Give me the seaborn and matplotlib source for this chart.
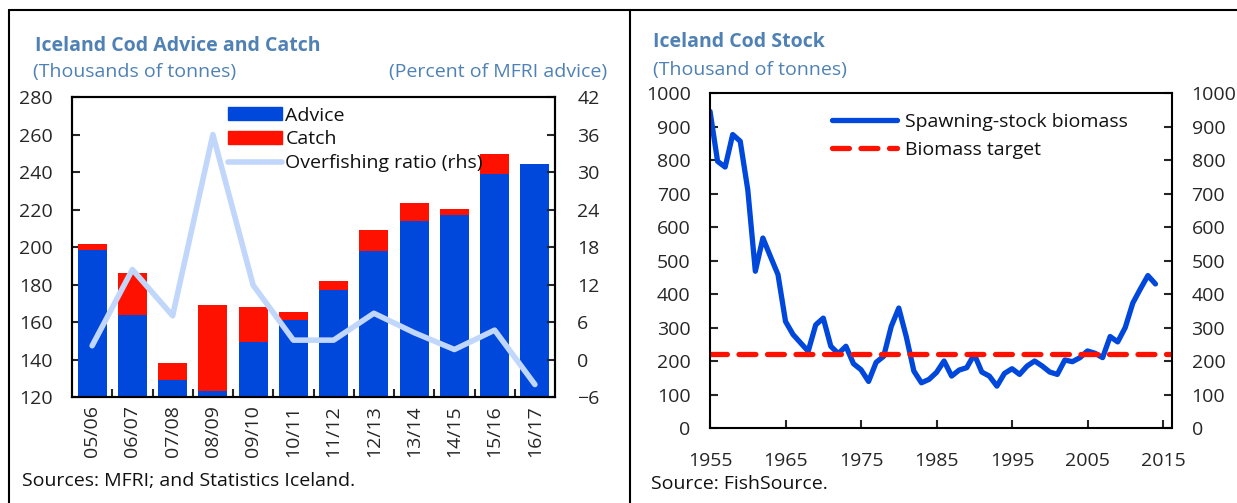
import numpy as np
import pandas as pd
import matplotlib
matplotlib.use("Agg")
import matplotlib.pyplot as plt
from matplotlib.lines import Line2D
from matplotlib.patches import Patch
import seaborn as sns

# left panel data: advice vs catch by fishing season
seasons = ["05/06", "06/07", "07/08", "08/09", "09/10", "10/11",
           "11/12", "12/13", "13/14", "14/15", "15/16", "16/17"]
advice = [198.6, 164.0, 129.3, 123.2, 149.2, 161.0, 177.3, 197.9, 214.0, 217.3, 239.1, 244.2]
catch = [201.4, 186.3, 138.3, 169.2, 168.2, 165.3, 182.1, 208.9, 223.5, 220.2, 249.5, np.nan]
overfishing = [2.2, 14.4, 7.0, 36.0, 11.9, 3.1, 3.1, 7.4, 4.3, 1.6, 4.7, -4.0]

# right panel data: spawning-stock biomass
years = list(range(1955, 2015))
biomass = [945, 796, 779, 876, 856, 711, 468, 567, 512, 458,
           318, 279, 254, 229, 308, 328, 244, 222, 244, 192,
           174, 139, 196, 214, 303, 358, 272, 170, 135, 145,
           166, 200, 155, 173, 180, 220, 167, 155, 125, 163,
           177, 160, 185, 200, 185, 167, 160, 203, 198, 210,
           230, 223, 210, 273, 257, 300, 373, 415, 455, 430]
biomass_target = 220

BLUE = "#0047DC"
RED = "#FF1100"
LIGHT = "#C0D6FA"
TITLE = "#4F81B4"

sns.set_theme(style="ticks")
plt.rcParams["font.family"] = ["Open Sans", "DejaVu Sans"]
plt.rcParams["axes.linewidth"] = 1.5
plt.rcParams["text.color"] = "#111111"

fig = plt.figure(figsize=(12.37, 5.03), dpi=100)
fig.patch.set_facecolor("white")

# frame lines
fig.add_artist(Line2D([0.0075, 1.0], [0.980, 0.980], color="black", lw=1.5, transform=fig.transFigure))
fig.add_artist(Line2D([0.0075, 0.0075], [0.0, 0.980], color="black", lw=1.5, transform=fig.transFigure))
fig.add_artist(Line2D([0.5093, 0.5093], [0.0, 0.980], color="black", lw=1.5, transform=fig.transFigure))

# ---- left panel
df_bars = pd.DataFrame({"season": seasons, "advice": advice, "catch": catch, "ratio": overfishing})

ax1 = fig.add_axes([0.0582, 0.2107, 0.3905, 0.5964])
sns.barplot(data=df_bars, x="season", y="catch", color=RED, width=0.72,
            saturation=1, linewidth=0, ax=ax1)
sns.barplot(data=df_bars, x="season", y="advice", color=BLUE, width=0.72,
            saturation=1, linewidth=0, ax=ax1)
ax1.set_ylim(120, 280)
ax1.set_xlim(-0.5, 11.5)
ax1.set_yticks(range(120, 281, 20))
ax1.set_xlabel("")
ax1.set_ylabel("")
ax1.set_xticks(range(len(seasons)))
ax1.set_xticklabels(seasons, rotation=90)
ax1.set_xticks(np.arange(0.5, 11, 1), minor=True)
ax1.tick_params(axis="x", which="major", length=0, pad=6, labelsize=14)
ax1.tick_params(axis="x", which="minor", direction="in", length=6, width=1.5)
ax1.tick_params(axis="y", direction="in", length=6, width=1.5, pad=14, labelsize=14)

ax2 = ax1.twinx()
sns.lineplot(data=df_bars, x="season", y="ratio", color=LIGHT, lw=4,
             sort=False, ax=ax2)
ax2.set_ylim(-6, 42)
ax2.set_yticks(range(-6, 43, 6))
ax2.set_ylabel("")
ax2.tick_params(axis="y", direction="in", length=6, width=1.5, pad=16, labelsize=14)
for ax in (ax1, ax2):
    for s in ax.spines.values():
        s.set_linewidth(1.5)
        s.set_color("black")

handles = [Patch(color=BLUE), Patch(color=RED), Line2D([], [], color=LIGHT, lw=4)]
ax2.legend(handles, ["Advice", "Catch", "Overfishing ratio (rhs)"], loc="upper left",
           bbox_to_anchor=(0.323, 0.968), frameon=False, fontsize=14, borderpad=0,
           borderaxespad=0, handlelength=2.8, handleheight=0.62, handletextpad=0.15,
           labelspacing=0.3)

fig.text(35 / 1237, 1 - 46 / 503, "Iceland Cod Advice and Catch", color=TITLE,
         fontsize=14, fontweight="bold", va="center", ha="left")
fig.text(33 / 1237, 1 - 72 / 503, "(Thousands of tonnes)", color=TITLE,
         fontsize=14, va="center", ha="left")
fig.text(607 / 1237, 1 - 72 / 503, "(Percent of MFRI advice)", color=TITLE,
         fontsize=14, va="center", ha="right")
fig.text(22 / 1237, 1 - 481 / 503, "Sources: MFRI; and Statistics Iceland.",
         fontsize=14, va="center", ha="left")

# ---- right panel
df_stock = pd.DataFrame({"year": years, "biomass": biomass})

ax3 = fig.add_axes([0.574, 0.1491, 0.3735, 0.666])
sns.lineplot(data=df_stock, x="year", y="biomass", color=BLUE, lw=3.8, ax=ax3,
             label="Spawning-stock biomass")
ax3.axhline(biomass_target, color=RED, lw=3.8, linestyle=(0, (3.2, 2.2)),
            dash_capstyle="round", label="Biomass target")
ax3.set_xlim(1955, 2016.2)
ax3.set_ylim(0, 1000)
ax3.set_xticks(range(1955, 2016, 10))
ax3.set_yticks(range(0, 1001, 100))
ax3.set_xlabel("")
ax3.set_ylabel("")
ax3.tick_params(axis="x", direction="in", length=6, width=1.5, pad=17, labelsize=14)
ax3.tick_params(axis="y", direction="in", length=6, width=1.5, pad=14, labelsize=14,
                right=True, labelright=True)
for s in ax3.spines.values():
    s.set_linewidth(1.5)
    s.set_color("black")
ax3.legend(loc="upper left", bbox_to_anchor=(0.264, 0.94), frameon=False, fontsize=14,
           borderpad=0, borderaxespad=0, handlelength=3.35, handletextpad=0.4,
           labelspacing=0.5)

fig.text(653 / 1237, 1 - 42 / 503, "Iceland Cod Stock", color=TITLE,
         fontsize=14, fontweight="bold", va="center", ha="left")
fig.text(653 / 1237, 1 - 70 / 503, "(Thousand of tonnes)", color=TITLE,
         fontsize=14, va="center", ha="left")
fig.text(651 / 1237, 1 - 484 / 503, "Source: FishSource.",
         fontsize=14, va="center", ha="left")

fig.savefig("out.png", dpi=100, facecolor="white")
